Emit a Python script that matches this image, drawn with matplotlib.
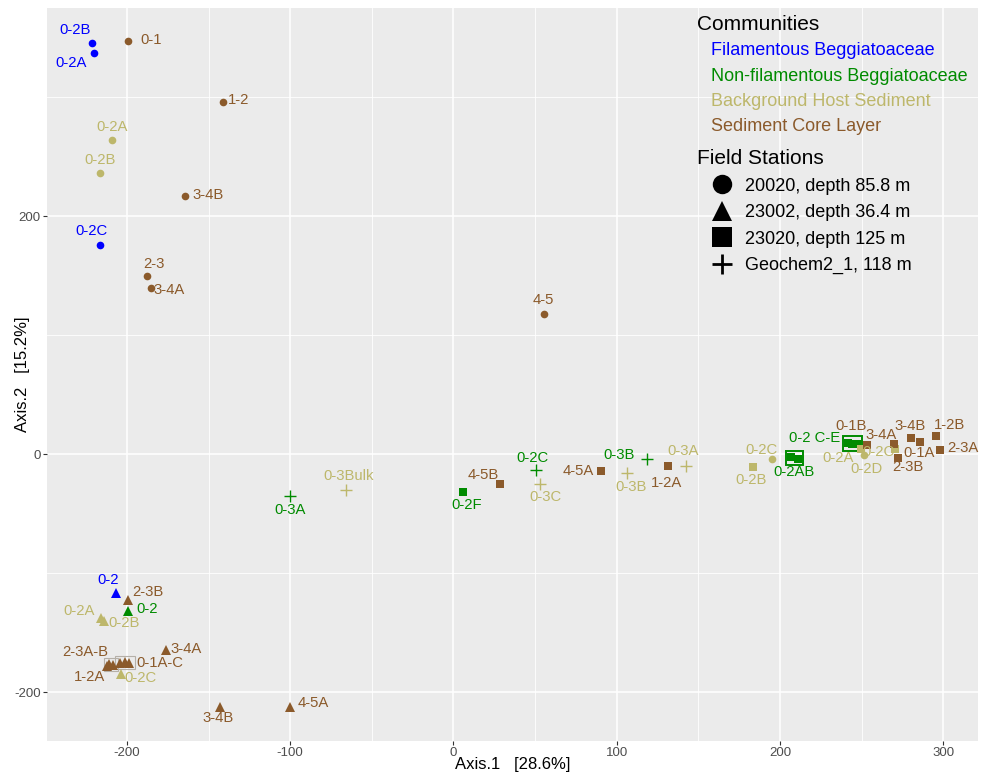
import matplotlib
matplotlib.use("Agg")
import matplotlib.pyplot as plt
from matplotlib.lines import Line2D
from matplotlib.patches import Rectangle

plt.rcParams["font.family"] = ["Liberation Sans", "DejaVu Sans"]
plt.rcParams["axes.unicode_minus"] = False

# PCoA ordination scores per sample
sample = ["0-2B", "0-2A", "0-2C", "0-2",
          "0-2", "0-3A", "0-2F", "0-2C", "0-3B", "0-2AB", "0-2AB",
          "0-2 C-E", "0-2 C-E", "0-2 C-E",
          "0-2A", "0-2B", "0-2A", "0-2B", "0-2C", "0-3Bulk", "0-3C", "0-3B",
          "0-3A", "0-2B", "0-2C", "0-2A", "0-2D", "0-2C",
          "0-1", "1-2", "3-4B", "2-3", "3-4A", "4-5",
          "2-3B", "3-4A", "2-3A-B", "2-3A-B", "1-2A", "0-1A-C", "0-1A-C",
          "0-1A-C", "3-4B", "4-5A",
          "4-5B", "4-5A", "1-2A", "0-1B", "3-4A", "2-3B", "3-4B", "0-1A",
          "1-2B", "2-3A"]
axis1 = [-221.5, -220.0, -216.6, -206.7,
         -199.4, -100.0, 6.1, 50.3, 118.4, 206.7, 211.0,
         241.5, 244.0, 247.0,
         -209.0, -216.6, -216.0, -214.0, -203.9, -65.6, 53.0, 106.0,
         142.5, 183.6, 194.9, 249.7, 251.7, 270.5,
         -199.4, -141.0, -164.4, -187.7, -185.3, 55.2,
         -199.2, -176.3, -211.0, -208.5, -212.0, -204.3, -201.4,
         -198.6, -143.0, -100.4,
         28.4, 90.2, 131.5, 253.2, 270.1, 272.2, 280.4, 285.5,
         295.7, 298.2]
axis2 = [346.0, 337.0, 176.0, -117.0,
         -132.0, -35.4, -32.0, -13.5, -4.0, -2.5, -4.2,
         9.8, 9.0, 8.2,
         264.0, 236.0, -138.0, -140.5, -184.7, -30.3, -24.7, -15.7,
         -9.8, -10.7, -3.9, 4.2, -0.8, 4.2,
         347.0, 296.4, 217.0, 150.0, 140.0, 118.0,
         -122.4, -164.5, -176.6, -177.0, -178.0, -175.7, -174.6,
         -175.2, -212.2, -212.8,
         -24.7, -14.0, -10.1, 8.1, 9.0, -3.1, 14.0, 10.4,
         15.2, 3.9]
community = (["Filamentous Beggiatoaceae"] * 4
             + ["Non-filamentous Beggiatoaceae"] * 10
             + ["Background Host Sediment"] * 14
             + ["Sediment Core Layer"] * 26)
station = ["20020", "20020", "20020", "23002",
           "23002", "Geochem2_1", "23020", "Geochem2_1", "Geochem2_1",
           "23020", "23020", "23020", "23020", "23020",
           "20020", "20020", "23002", "23002", "23002", "Geochem2_1",
           "Geochem2_1", "Geochem2_1", "Geochem2_1", "23020", "20020",
           "23020", "20020", "23020",
           "20020", "20020", "20020", "20020", "20020", "20020",
           "23002", "23002", "23002", "23002", "23002", "23002", "23002",
           "23002", "23002", "23002",
           "23020", "23020", "23020", "23020", "23020", "23020", "23020",
           "23020", "23020", "23020"]

community_names = ["Filamentous Beggiatoaceae", "Non-filamentous Beggiatoaceae",
                   "Background Host Sediment", "Sediment Core Layer"]
station_names = ["20020", "23002", "23020", "Geochem2_1"]
station_labels = ["20020, depth 85.8 m", "23002, depth 36.4 m",
                  "23020, depth 125 m", "Geochem2_1, 118 m"]

colors = {"Filamentous Beggiatoaceae": "#0000FF",
          "Non-filamentous Beggiatoaceae": "#008B00",
          "Background Host Sediment": "#BDB76B",
          "Sediment Core Layer": "#8B5A2B"}
markers = {"20020": "o", "23002": "^", "23020": "s", "Geochem2_1": "+"}
msize = {"20020": 5.5, "23002": 7, "23020": 6, "Geochem2_1": 9}

# text nudges in points, one per sample (group labels use the first member)
nudge = [(-12, 9), (-17, -7), (-6, 10), (-6, 10),
         (14, 1.5), (0, -9.5), (2, -9), (-2, 9), (-20, 3), (2, -11), None,
         (-24, 3), None, None,
         (0, 9.5), (0, 9.5), (-16, 5), (14, -1.5), (14, -3), (1.5, 10),
         (4, -9.5), (3.5, -10), (-2, 11), (-1.5, -9.5), (-7, 6.5),
         (-16.5, -6), (1.5, -10), (-12, -2),
         (16.5, 0.7), (11, 1.4), (16.5, 0.7), (5, 8.6), (13, -1.4), (0, 10),
         (14, 6), (15, 0.7), (-17, 8.6), None, (-13, -8), (28.5, 0), None,
         None, (-1.5, -8), (17, 3.5),
         (-12, 6.5), (-16.5, 0), (-1.5, -12), (-11.5, 13.7), (-9.5, 6),
         (7, -6.5), (-0.7, 8.6), (-0.7, -8), (9.4, 8), (16.5, 1.4)]

fig = plt.figure(figsize=(9.89, 7.72), dpi=100)
ax = fig.add_axes([47 / 989, 31 / 772, 931 / 989, 733 / 772])
ax.set_facecolor("#EBEBEB")

for i in range(len(sample)):
    c = colors[community[i]]
    st = station[i]
    ax.plot(axis1[i], axis2[i], linestyle="none", marker=markers[st],
            markersize=msize[st], color=c,
            markeredgewidth=1.0 if st == "Geochem2_1" else 0, zorder=3)

# boxes round samples that share a label
boxed = ["0-2AB", "0-2 C-E", "2-3A-B", "0-1A-C"]
for name in boxed:
    idx = [i for i in range(len(sample)) if sample[i] == name]
    xs = [axis1[i] for i in idx]
    ys = [axis2[i] for i in idx]
    c = colors[community[idx[0]]]
    green = community[idx[0]] == "Non-filamentous Beggiatoaceae"
    px, py = 3.2, 5.2
    ax.add_patch(Rectangle((min(xs) - px, min(ys) - py),
                           max(xs) - min(xs) + 2 * px, max(ys) - min(ys) + 2 * py,
                           fill=False, edgecolor=c if green else "#B5B0A8",
                           linewidth=1.4 if green else 0.8, zorder=2))

for i in range(len(sample)):
    if nudge[i] is None:
        continue
    ax.annotate(sample[i], (axis1[i], axis2[i]), xytext=nudge[i],
                textcoords="offset points", ha="center", va="center",
                fontsize=10.7, color=colors[community[i]], zorder=4)

ax.set_xlim(-249, 321.3)
ax.set_ylim(-241, 375)
ax.set_xticks([-200, -100, 0, 100, 200, 300])
ax.set_xticks([-150, -50, 50, 150, 250], minor=True)
ax.set_yticks([-200, 0, 200])
ax.set_yticks([-100, 100, 300], minor=True)
ax.grid(True, which="major", color="white", linewidth=1.1)
ax.grid(True, which="minor", color="white", linewidth=0.6)
ax.set_axisbelow(True)
for s in ax.spines.values():
    s.set_visible(False)
ax.tick_params(which="major", length=3, color="#333333", labelsize=9.5,
               labelcolor="#4D4D4D", width=0.8, pad=1.5)
ax.tick_params(which="minor", length=0)
ax.set_xlabel("Axis.1   [28.6%]", fontsize=12, va="center")
ax.set_ylabel("Axis.2   [15.2%]", fontsize=12, va="center")
ax.xaxis.set_label_coords(0.5, -23 / 733)
ax.yaxis.set_label_coords(-24 / 931, 0.5)

comm_handles = [Line2D([], [], linestyle="none") for _ in community_names]
leg1 = ax.legend(comm_handles, community_names, title="Communities",
                 loc="upper left", bbox_to_anchor=(697 / 989, 1 - 15 / 772),
                 bbox_transform=fig.transFigure, frameon=False,
                 borderpad=0, borderaxespad=0,
                 handlelength=0, handletextpad=0.78, fontsize=13,
                 title_fontsize=15, labelspacing=0.46, alignment="left",
                 labelcolor=[colors[n] for n in community_names])
ax.add_artist(leg1)

st_handles = [Line2D([], [], linestyle="none", marker=markers[s], color="black",
                     markersize=14 if s != "23002" else 15,
                     markeredgewidth=2 if s == "Geochem2_1" else 0)
              for s in station_names]
ax.legend(st_handles, station_labels, title="Field Stations",
          loc="upper left", bbox_to_anchor=(697 / 989, 1 - 149 / 772),
          bbox_transform=fig.transFigure, frameon=False, fontsize=13,
          borderpad=0, borderaxespad=0,
          title_fontsize=15, labelspacing=0.53, handlelength=2.78,
          handletextpad=-0.1, alignment="left")

fig.savefig("out.png", dpi=100)
